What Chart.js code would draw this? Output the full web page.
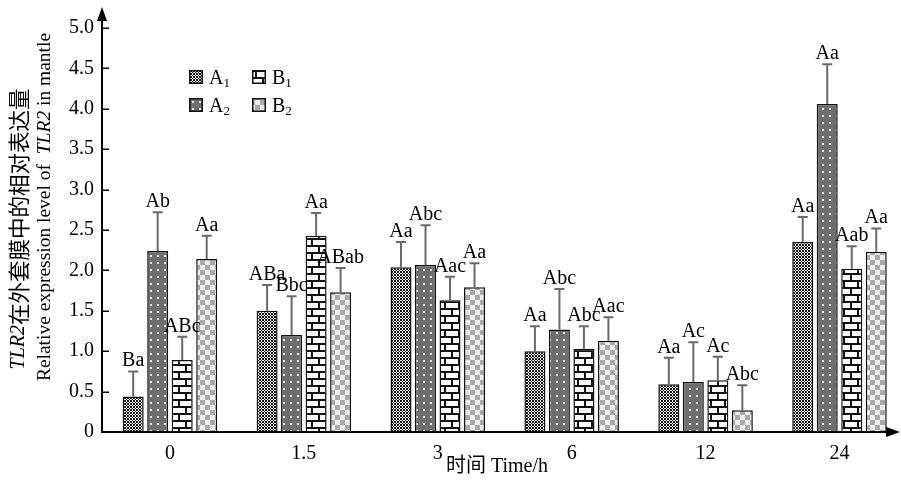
<!DOCTYPE html>
<html>
<head>
<meta charset="utf-8">
<script src="https://cdn.jsdelivr.net/npm/chart.js@4.4.1/dist/chart.umd.min.js"></script>
<style>
  html, body { margin: 0; padding: 0; background: #fff; overflow: hidden; }
  #wrap { width: 901px; height: 483px; position: relative; }
</style>
</head>
<body>
<div id="wrap"><canvas id="c" width="901" height="483"></canvas></div>
<script>
// Sampling times (h) and treatment groups
const categories = ['0', '1.5', '3', '6', '12', '24'];
const seriesNames = ['A1', 'A2', 'B1', 'B2'];

// Mean relative expression of TLR2 in mantle
const meanA1 = [0.44, 1.50, 2.04, 1.00, 0.59, 2.35];
const meanA2 = [2.24, 1.20, 2.07, 1.27, 0.62, 4.06];
const meanB1 = [0.89, 2.43, 1.63, 1.03, 0.64, 2.02];
const meanB2 = [2.14, 1.73, 1.79, 1.13, 0.27, 2.23];

// Standard deviations (upper error bars)
const sdA1 = [0.31, 0.32, 0.31, 0.31, 0.33, 0.31];
const sdA2 = [0.48, 0.48, 0.49, 0.50, 0.49, 0.49];
const sdB1 = [0.29, 0.28, 0.29, 0.28, 0.29, 0.28];
const sdB2 = [0.29, 0.30, 0.30, 0.29, 0.31, 0.29];

// Significance letters
const letterA1 = ['Ba', 'ABa', 'Aa', 'Aa', 'Aa', 'Aa'];
const letterA2 = ['Ab', 'Bbc', 'Abc', 'Abc', 'Ac', 'Aa'];
const letterB1 = ['ABc', 'Aa', 'Aac', 'Abc', 'Ac', 'Aab'];
const letterB2 = ['Aa', 'ABab', 'Aa', 'Aac', 'Abc', 'Aa'];

// Y axis ticks
const yTicks = [0, 0.5, 1.0, 1.5, 2.0, 2.5, 3.0, 3.5, 4.0, 4.5, 5.0];

const means = [meanA1, meanA2, meanB1, meanB2];
const sds = [sdA1, sdA2, sdB1, sdB2];
const letters = [letterA1, letterA2, letterB1, letterB2];

const SERIF = '"Liberation Serif", "Times New Roman", serif';
const CJK = '"Liberation Serif", "Noto Sans CJK SC", serif';

const canvas = document.getElementById('c');
const ctx = canvas.getContext('2d');

// ---- fill patterns ----
function makePattern(w, h, paint) {
  const t = document.createElement('canvas');
  t.width = w; t.height = h;
  const g = t.getContext('2d');
  paint(g);
  return ctx.createPattern(t, 'repeat');
}
const patCross = makePattern(3, 3, g => {
  g.fillStyle = '#ffffff'; g.fillRect(0, 0, 3, 3);
  g.fillStyle = '#111111';
  for (let y = 0; y < 3; y++) for (let x = 0; x < 3; x++) {
    if ((x + y) % 3 === 0 || ((x - y) + 3) % 3 === 0) g.fillRect(x, y, 1, 1);
  }
});
const patDots = makePattern(7, 7, g => {
  g.fillStyle = '#6e6e6e'; g.fillRect(0, 0, 7, 7);
  g.fillStyle = '#e6e6e6'; g.fillRect(3, 3, 2, 2);
});
const patBrick = makePattern(14, 14, g => {
  g.fillStyle = '#ffffff'; g.fillRect(0, 0, 14, 14);
  g.fillStyle = '#111111';
  g.fillRect(0, 0, 14, 2);
  g.fillRect(0, 7, 14, 2);
  g.fillRect(3, 0, 2, 7);
  g.fillRect(10, 7, 2, 7);
});
const patCheck = makePattern(10, 10, g => {
  g.fillStyle = '#eeeeee'; g.fillRect(0, 0, 10, 10);
  g.fillStyle = '#a9a9a9';
  g.fillRect(0, 0, 5, 5);
  g.fillRect(5, 5, 5, 5);
});
const patterns = [patCross, patDots, patBrick, patCheck];

// ---- annotations: error bars, letters, axes, titles, legend ----
const decor = {
  id: 'decor',
  afterDatasetsDraw(chart) {
    const c = chart.ctx;
    const ys = chart.scales.y;
    c.save();
    chart.data.datasets.forEach((ds, di) => {
      const meta = chart.getDatasetMeta(di);
      meta.data.forEach((bar, i) => {
        const top = ys.getPixelForValue(means[di][i]);
        const capY = ys.getPixelForValue(means[di][i] + sds[di][i]);
        c.strokeStyle = '#6a6a6a';
        c.lineWidth = 2;
        c.beginPath();
        c.moveTo(bar.x, top);
        c.lineTo(bar.x, capY);
        c.moveTo(bar.x - 5, capY);
        c.lineTo(bar.x + 5, capY);
        c.stroke();
        c.fillStyle = '#000';
        c.font = '20px ' + SERIF;
        c.textAlign = 'center';
        c.textBaseline = 'alphabetic';
        c.fillText(letters[di][i], bar.x, capY - 5);
      });
    });
    c.restore();
  },
  afterDraw(chart) {
    const c = chart.ctx;
    const ys = chart.scales.y;
    const x0 = 102, y0 = ys.getPixelForValue(0);
    c.save();
    c.strokeStyle = '#000';
    c.fillStyle = '#000';
    c.lineWidth = 2;
    // axes
    c.beginPath();
    c.moveTo(x0, y0 + 1);
    c.lineTo(x0, 16);
    c.moveTo(x0 - 1, y0);
    c.lineTo(890, y0);
    c.stroke();
    // arrow heads
    c.beginPath();
    c.moveTo(x0, 7); c.lineTo(x0 - 5, 21); c.lineTo(x0 + 5, 21); c.closePath(); c.fill();
    c.beginPath();
    c.moveTo(900, y0); c.lineTo(886, y0 - 5); c.lineTo(886, y0 + 5); c.closePath(); c.fill();
    // inward tick marks
    c.lineWidth = 1.5;
    c.beginPath();
    yTicks.forEach(v => {
      if (v === 0) return;
      const py = Math.round(ys.getPixelForValue(v)) + 0.25;
      c.moveTo(x0, py); c.lineTo(x0 + 7, py);
    });
    c.stroke();

    // x title
    c.font = '20px ' + CJK;
    c.textAlign = 'center';
    c.textBaseline = 'middle';
    c.fillText('时间 Time/h', 497, 467);

    // y title (two lines, rotated)
    function drawRun(parts, cx, cy) {
      c.save();
      c.translate(cx, cy);
      c.rotate(-Math.PI / 2);
      c.textAlign = 'left';
      c.textBaseline = 'middle';
      let total = 0;
      parts.forEach(p => { c.font = p.font; p.w = c.measureText(p.t).width; total += p.w; });
      let x = -total / 2;
      parts.forEach(p => { c.font = p.font; c.fillText(p.t, x, 0); x += p.w; });
      c.restore();
    }
    drawRun([
      { t: 'TLR2', font: 'italic 20px ' + SERIF },
      { t: '在外套膜中的相对表达量', font: '21.5px "Noto Sans CJK SC", sans-serif' }
    ], 19, 229);
    drawRun([
      { t: 'Relative expression level of  ', font: '19.5px ' + SERIF },
      { t: 'TLR2', font: 'italic 19.5px ' + SERIF },
      { t: ' in mantle', font: '19.5px ' + SERIF }
    ], 45, 207);

    // legend
    const legendPos = [[189, 70], [189, 98], [252, 70], [252, 98]];
    seriesNames.forEach((name, i) => {
      const [lx, ly] = legendPos[i];
      c.fillStyle = patterns[i];
      c.fillRect(lx, ly, 14, 14);
      c.strokeStyle = '#111';
      c.lineWidth = 1.5;
      c.strokeRect(lx + 0.75, ly + 0.75, 12.5, 12.5);
      c.fillStyle = '#000';
      c.textAlign = 'left';
      c.textBaseline = 'alphabetic';
      c.font = '20px ' + SERIF;
      c.fillText(name[0], lx + 20, ly + 14);
      const w = c.measureText(name[0]).width;
      c.font = '13px ' + SERIF;
      c.fillText(name.slice(1), lx + 20 + w, ly + 17);
    });
    c.restore();
  }
};

const datasets = seriesNames.map((name, di) => ({
  label: name,
  data: categories.map((_, i) => ({ x: i, y: means[di][i] })),
  backgroundColor: patterns[di],
  borderColor: '#111111',
  borderWidth: 1.5,
  borderSkipped: 'start',
  categoryPercentage: 0.732,
  barPercentage: 0.857
}));

new Chart(canvas, {
  type: 'bar',
  data: { datasets },
  plugins: [decor],
  options: {
    responsive: false,
    animation: false,
    devicePixelRatio: 1,
    layout: { padding: { top: 28, right: 3, bottom: 0, left: 0 } },
    plugins: { legend: { display: false }, tooltip: { enabled: false } },
    scales: {
      x: {
        type: 'linear',
        offset: false,
        min: -0.5,
        max: 5.437,
        grid: { display: false, drawTicks: false, offset: false },
        border: { display: false },
        afterBuildTicks(axis) {
          axis.ticks = categories.map((_, i) => ({ value: i }));
        },
        afterFit(axis) { axis.height = 51; },
        ticks: {
          autoSkip: false,
          maxRotation: 0,
          padding: 10,
          color: '#000',
          font: { family: SERIF, size: 20 },
          callback: (v, i) => categories[i]
        }
      },
      y: {
        min: 0,
        max: 5,
        grid: { display: false, drawTicks: false },
        border: { display: false },
        afterBuildTicks(axis) {
          axis.ticks = yTicks.map(v => ({ value: v }));
        },
        afterFit(axis) { axis.width = 103; },
        ticks: {
          padding: 9,
          color: '#000',
          font: { family: SERIF, size: 20 },
          callback: v => (v === 0 ? '0' : v.toFixed(1))
        }
      }
    }
  }
});
</script>
</body>
</html>
